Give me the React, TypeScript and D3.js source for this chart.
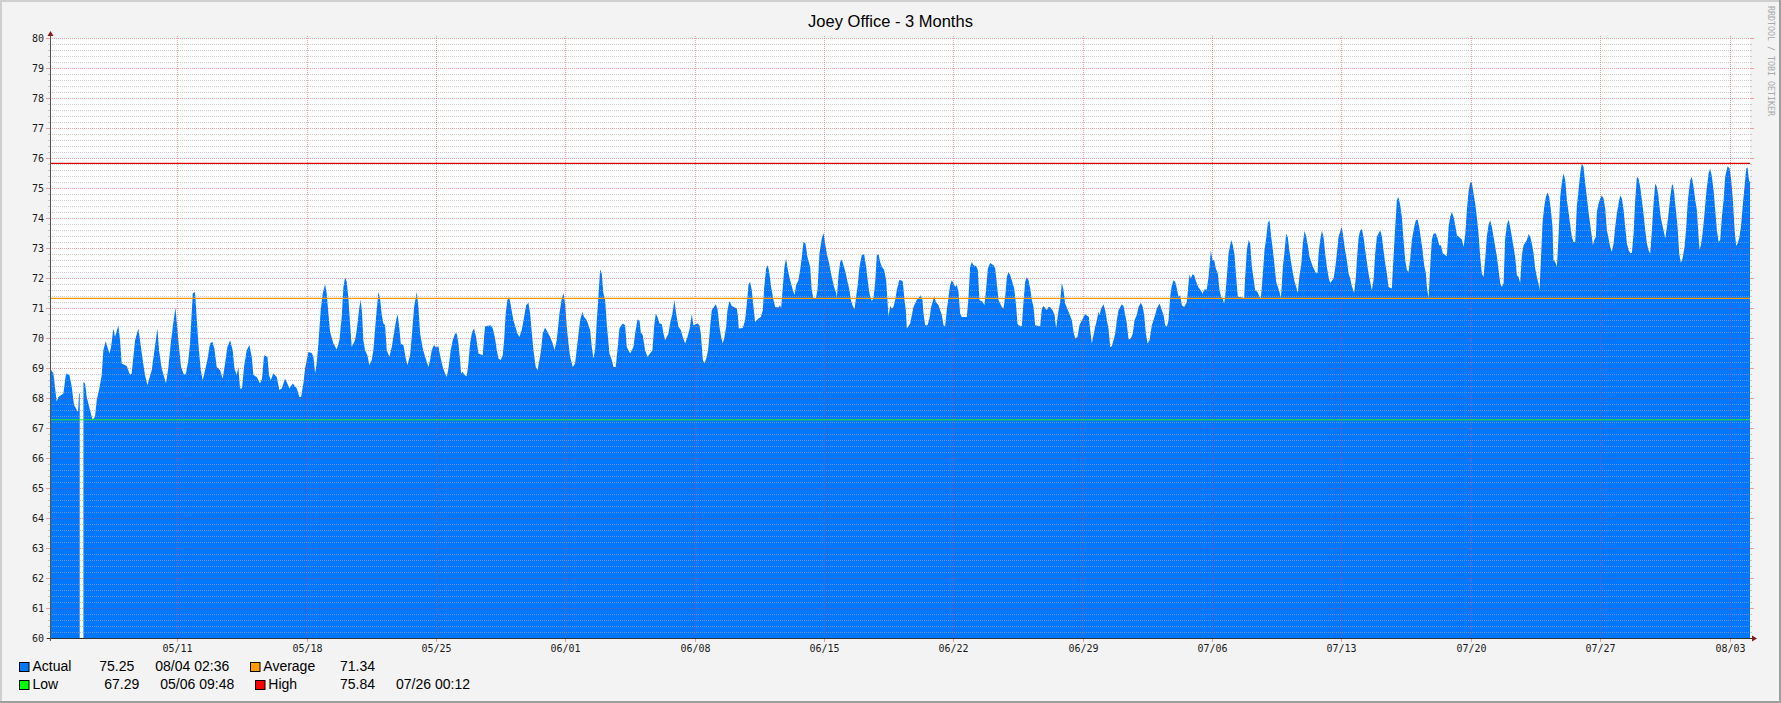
import React from 'react';
import * as d3 from 'd3';

// ---- data: [hours since 05/04 00:00, temperature] ----
const segmentA: [number, number | null][] = [
[2.6,69.00],[7.0,68.83],[11.3,67.89],[13.5,68.05],[20.0,68.17],[23.4,68.83],[27.8,68.78],[30.8,68.39],[33.8,67.78],[39.0,67.55],[40.3,68.17],[41.2,68.17],[42,null],[46.0,68.55],[48.1,68.50],[50.3,68.05],[54.6,67.61],[57.8,67.29],[61.1,67.39],[63.3,67.94],[66.7,68.33],[69.8,68.78],[71.9,69.61],[75.0,69.91],[79.7,69.50],[81.9,69.72],[84.9,70.33],[87.1,70.05],[91.4,70.44],[93.6,69.94],[95.7,69.17],[102.2,69.08],[106.6,68.78],[108.7,68.83],[113.1,69.94],[117.4,70.33],[119.5,69.94],[123.0,69.28],[126.0,68.78],[129.1,68.44],[134.7,68.94],[137.7,69.50],[142.1,70.33],[144.2,69.61],[147.7,69.00],[153.3,68.50],[156.4,69.05],[159.4,69.83],[162.9,70.55],[165.5,71.03],[167.2,70.55],[169.3,69.94],[172.8,69.05],[176.7,68.78],[179.3,68.83],[182.3,69.28],[184.5,69.83],[188.0,71.50],[191.0,71.55],[193.2,70.66],[195.3,69.83],[198.4,68.94],[200.9,68.61],[204.0,68.94],[207.0,69.28],[210.5,69.83],[213.5,69.89],[216.1,69.67],[219.1,69.05],[223.5,68.94],[226.9,68.66],[230.0,69.17],[233.0,69.72],[236.5,69.94],[239.9,69.61],[242.1,69.00],[245.1,68.78],[247.3,69.05],[249.4,68.33],[252.0,68.33],[254.6,69.05],[258.1,69.61],[261.6,69.78],[264.6,69.39],[266.8,68.78],[271.1,68.72],[275.4,68.50],[278.0,68.66],[280.6,69.44],[285.0,69.39],[287.1,68.78],[289.3,68.61],[292.7,68.83],[297.1,68.72],[300.5,68.28],[303.6,68.33],[307.9,68.66],[310.9,68.50],[313.5,68.33],[317.9,68.50],[323.1,68.33],[326.5,68.05],[328.7,68.05],[331.7,68.50],[333.9,69.00],[338.2,69.55],[342.5,69.52],[344.7,69.39],[346.9,68.83],[349.0,69.17],[351.2,69.83],[354.2,70.94],[356.8,71.50],[359.9,71.81],[362.0,71.50],[364.2,70.83],[366.4,70.22],[370.7,69.83],[375.0,69.63],[378.5,69.94]
];
const segmentB: [number, number][] = [
[381.5,70.72],[383.7,71.72],[385.8,72.03],[388.0,71.89],[390.2,71.33],[392.3,70.50],[394.5,69.72],[398.8,69.94],[401.0,70.28],[404.5,71.05],[406.2,71.30],[407.9,70.83],[409.6,69.94],[411.8,69.61],[414.8,69.44],[417.4,69.11],[420.5,69.28],[422.6,69.61],[426.1,70.72],[429.1,71.55],[431.3,71.33],[433.5,70.78],[435.6,70.50],[437.8,70.44],[440.0,69.61],[443.4,69.39],[446.5,69.72],[448.6,70.05],[452.1,70.61],[454.2,70.81],[456.4,70.33],[458.1,69.83],[461.6,69.78],[464.2,69.39],[466.8,69.11],[470.3,69.44],[472.4,70.05],[475.5,71.05],[479.0,71.55],[481.1,71.05],[483.3,70.17],[486.7,69.67],[489.8,69.39],[494.1,69.05],[496.3,69.28],[498.4,69.61],[501.4,69.78],[504.0,69.70],[507.1,69.74],[509.2,69.44],[512.7,69.05],[515.7,68.83],[517.9,68.72],[520.1,69.00],[523.1,69.61],[525.7,69.94],[528.7,70.17],[530.9,70.17],[533.1,69.83],[535.2,69.28],[536.5,68.83],[538.7,68.89],[540.8,68.78],[543.9,68.74],[546.0,69.17],[548.2,69.83],[550.8,70.22],[553.4,70.33],[556.0,70.05],[559.0,69.50],[564.7,69.44],[566.4,70.05],[567.7,70.41],[575.1,70.44],[577.7,70.33],[580.7,70.00],[582.9,69.61],[585.0,69.33],[588.0,69.28],[590.6,69.44],[592.4,69.94],[594.5,70.83],[596.7,71.28],[598.9,71.39],[601.0,71.11],[604.5,70.61],[609.7,70.17],[612.3,70.05],[615.3,70.28],[618.4,70.72],[621.0,71.11],[624.0,71.19],[626.2,70.83],[628.3,70.22],[630.5,69.61],[633.5,69.05],[635.7,68.94],[638.3,69.28],[640.4,69.61],[642.6,70.17],[645.6,70.37],[648.7,70.22],[652.1,70.05],[655.6,69.83],[657.8,69.61],[660.8,69.94],[664.3,70.83],[667.3,71.33],[669.5,71.52],[671.6,71.17],[673.8,70.39],[676.0,69.83],[678.1,69.39],[681.6,69.05],[684.6,69.17],[687.6,69.83],[691.1,70.61],[694.1,70.89],[696.3,70.72],[699.8,70.61],[704.1,70.28],[706.3,69.72],[708.4,69.33],[710.6,69.61],[712.8,70.61],[714.9,71.39],[717.1,72.30],[719.2,72.17],[721.4,71.50],[723.6,71.28],[725.7,70.50],[729.2,69.50],[732.2,69.28],[734.4,69.05],[737.4,69.05],[739.6,69.61],[742.2,70.33]
];
const segmentC: [number, number][] = [
[743.9,70.41],[746.5,70.50],[749.6,70.44],[751.7,69.72],[756.1,69.50],[760.4,69.72],[762.6,70.17],[765.6,70.63],[768.2,70.61],[769.9,70.22],[772.5,70.11],[775.5,69.61],[778.6,69.39],[782.0,69.50],[785.1,69.61],[787.2,70.39],[789.4,70.83],[791.6,70.72],[794.2,70.50],[797.2,70.48],[799.4,70.17],[801.5,69.94],[805.9,70.17],[808.0,70.50],[811.0,70.83],[813.6,71.28],[815.8,70.83],[818.8,70.39],[821.9,70.28],[824.5,70.05],[827.5,69.83],[830.5,70.05],[833.1,70.28],[836.2,70.81],[838.3,70.44],[843.5,70.50],[846.1,70.44],[847.9,70.17],[850.5,69.28],[852.6,69.17],[855.7,69.39],[857.8,69.72],[860.0,70.39],[862.1,70.94],[867.3,71.14],[869.5,71.00],[872.1,70.39],[874.3,70.05],[876.4,69.83],[878.6,70.05],[880.8,70.39],[882.5,70.94],[885.1,71.25],[888.1,71.08],[894.6,71.00],[895.9,70.78],[897.2,70.33],[902.4,70.35],[905.4,70.61],[907.6,71.14],[909.8,71.78],[911.9,71.89],[914.1,71.61],[916.3,71.05],[918.4,70.55],[922.8,70.67],[925.8,70.72],[928.4,70.94],[930.1,71.67],[932.7,72.33],[934.9,72.44],[937.0,72.17],[939.2,71.72],[942.3,71.28],[944.4,71.05],[948.7,71.03],[950.9,71.11],[952.2,71.00],[954.4,71.72],[956.5,72.39],[958.7,72.67],[960.9,72.28],[963.9,71.94],[966.9,71.67],[969.5,71.44],[971.7,71.78],[974.7,71.94],[976.9,72.28],[979.1,72.72],[981.2,73.22],[983.8,73.17],[986.4,72.72],[989.9,72.39],[992.0,71.61],[994.2,71.33],[997.2,71.33],[999.4,71.61],[1002.0,72.83],[1005.0,73.33],[1007.2,73.52],[1009.4,73.17],[1011.5,72.83],[1015.0,72.44],[1018.0,72.05],[1021.0,71.72],[1023.7,71.52],[1024.5,71.33],[1026.7,72.11],[1028.9,72.55],[1031.0,72.63],[1033.2,72.44],[1036.2,72.17],[1038.4,71.89],[1041.0,71.61],[1042.7,71.28],[1044.9,71.11],[1047.5,70.97],[1049.6,71.39],[1051.4,71.72],[1054.0,72.39],[1057.0,72.78],[1060.0,72.81],[1062.6,72.39],[1065.7,71.72],[1067.8,71.39],[1070.0,71.25],[1072.1,71.33],[1074.3,71.83],[1076.5,72.78],[1078.7,72.81],[1080.8,72.55],[1083.0,72.39],[1086.0,72.28],[1088.6,71.94],[1090.3,71.28],[1091.6,70.72],[1093.8,71.08],[1095.9,71.00],[1098.1,71.05],[1100.3,71.28],[1102.5,71.61],[1105.5,71.94]
];
const segmentD: [number, number][] = [
[1108.1,71.94],[1110.3,71.89],[1112.4,71.28],[1114.2,70.94],[1115.5,70.33],[1119.8,70.50],[1122.0,70.78],[1124.1,71.05],[1128.4,71.28],[1133.6,71.44],[1135.8,71.28],[1137.1,70.83],[1139.3,70.44],[1142.3,70.44],[1144.9,70.67],[1147.1,71.05],[1151.0,71.41],[1153.1,71.22],[1156.6,71.11],[1160.9,70.78],[1163.1,70.44],[1165.2,70.41],[1167.4,70.94],[1169.6,71.39],[1171.7,71.78],[1173.9,71.94],[1176.1,71.83],[1178.2,71.72],[1180.4,71.78],[1182.6,71.55],[1184.7,70.83],[1186.9,70.72],[1193.4,70.72],[1195.6,71.39],[1197.7,72.39],[1199.9,72.55],[1202.1,72.44],[1205.5,72.42],[1207.7,72.28],[1209.8,71.28],[1214.2,71.22],[1216.3,71.11],[1218.5,71.67],[1220.7,72.33],[1223.7,72.52],[1228.0,72.44],[1230.2,72.33],[1232.4,71.83],[1234.5,71.28],[1238.9,71.05],[1241.0,71.00],[1243.2,71.39],[1245.4,72.05],[1247.5,72.22],[1249.7,72.11],[1251.8,71.94],[1254.9,71.67],[1256.2,71.39],[1257.5,71.05],[1259.2,70.50],[1260.5,70.44],[1264.8,70.41],[1267.0,71.22],[1269.2,71.89],[1271.3,72.05],[1273.5,71.94],[1275.7,71.67],[1277.8,71.28],[1280.0,71.05],[1282.2,70.44],[1288.7,70.41],[1290.8,71.00],[1293.0,71.08],[1297.3,70.94],[1299.5,71.05],[1301.6,71.05],[1304.7,70.94],[1307.3,70.78],[1309.4,70.33],[1311.6,70.78],[1314.6,71.22],[1316.8,71.85],[1319.0,71.61],[1321.1,71.17],[1325.5,70.89],[1329.8,70.61],[1332.0,70.22],[1334.1,70.00],[1337.1,70.05],[1339.7,70.44],[1342.8,70.61],[1347.1,70.81],[1351.9,70.72],[1353.6,70.28],[1355.8,69.83],[1357.9,70.11],[1360.1,70.39],[1362.3,70.61],[1364.4,70.89],[1365.7,70.78],[1367.9,71.00],[1370.9,71.14],[1373.1,70.94],[1375.3,70.61],[1377.4,70.33],[1379.6,69.72],[1381.7,69.74],[1383.9,69.94],[1386.1,70.17],[1388.2,70.61],[1390.4,70.94],[1394.7,71.14],[1396.9,71.08],[1399.1,70.78],[1401.2,70.50],[1403.4,69.97],[1406.4,70.00],[1409.0,70.17],[1411.2,70.61],[1414.2,70.78],[1416.4,71.05],[1419.4,71.19],[1422.0,71.05],[1423.7,70.78],[1425.9,70.17],[1428.1,69.83],[1430.7,69.94],[1433.7,70.44],[1438.0,70.78],[1440.2,71.00],[1443.7,71.17],[1446.7,70.94],[1448.9,70.78],[1451.0,70.44],[1453.2,70.39],[1455.4,70.61],[1457.5,71.39],[1459.7,71.78],[1461.9,71.94],[1464.0,71.89],[1466.2,71.67],[1468.3,71.39]
];
const segmentE: [number, number][] = [
[1470.5,71.44],[1472.7,71.11],[1475.7,71.05],[1479.2,71.22],[1481.3,71.83],[1482.6,72.14],[1484.3,72.00],[1486.5,72.14],[1488.7,72.11],[1491.3,71.89],[1494.3,71.70],[1497.3,71.61],[1499.5,71.48],[1501.7,71.63],[1505.1,71.63],[1507.3,72.05],[1508.6,72.39],[1510.3,72.94],[1512.5,72.61],[1514.7,72.61],[1516.8,72.33],[1519.4,72.17],[1521.6,71.61],[1523.7,71.39],[1525.9,71.30],[1527.6,71.17],[1528.9,71.39],[1531.1,72.05],[1533.3,72.83],[1535.4,73.11],[1536.7,73.28],[1538.9,73.11],[1541.1,72.78],[1543.2,72.05],[1545.4,71.39],[1551.5,71.37],[1553.6,71.33],[1554.9,72.05],[1557.1,72.94],[1559.3,73.28],[1561.4,73.17],[1563.6,72.39],[1565.8,72.00],[1567.9,71.61],[1571.0,71.55],[1573.5,71.39],[1575.3,71.33],[1577.9,72.17],[1580.0,72.94],[1582.2,73.33],[1584.4,73.85],[1586.5,73.94],[1588.7,73.39],[1590.9,72.94],[1593.0,72.44],[1595.2,71.89],[1597.4,71.72],[1599.5,71.55],[1601.3,71.33],[1602.6,71.83],[1603.9,72.39],[1606.0,72.89],[1608.2,73.50],[1610.3,73.37],[1612.5,72.89],[1615.5,72.39],[1618.6,71.94],[1621.2,71.72],[1623.3,71.52],[1625.5,72.11],[1627.7,72.44],[1629.8,73.17],[1632.0,73.58],[1634.2,73.39],[1636.3,73.11],[1638.5,72.72],[1642.8,72.39],[1647.2,72.17],[1648.9,72.19],[1650.2,72.83],[1652.4,73.28],[1654.5,73.59],[1656.7,73.39],[1658.8,72.83],[1661.0,72.39],[1663.2,72.05],[1665.3,71.85],[1669.7,72.00],[1671.8,72.33],[1674.0,72.83],[1676.2,73.39],[1680.1,73.72],[1681.8,73.50],[1684.0,73.05],[1687.0,72.61],[1689.2,72.17],[1691.3,72.00],[1693.5,71.74],[1696.5,71.52],[1698.7,72.05],[1700.0,72.61],[1702.1,73.33],[1704.3,73.61],[1706.5,73.64],[1708.6,73.39],[1710.8,72.94],[1713.0,72.55],[1715.1,72.17],[1717.3,71.89],[1719.5,71.61],[1721.6,71.94],[1723.8,72.83],[1726.0,73.39],[1730.3,73.61],[1732.5,73.39],[1734.6,72.94],[1736.8,72.50],[1739.0,72.17],[1741.1,71.72],[1745.4,71.67],[1747.6,72.72],[1749.8,73.72],[1751.9,74.61],[1754.1,74.72],[1756.3,74.44],[1758.4,74.05],[1760.6,73.28],[1762.8,72.61],[1764.9,72.28],[1767.1,72.22],[1769.3,72.67],[1771.4,73.28],[1774.5,73.72],[1776.6,73.94],[1778.8,73.97],[1781.0,73.72],[1783.1,73.33],[1785.3,72.94],[1787.4,72.44],[1789.6,72.17],[1790.9,71.72],[1793.1,71.33],[1795.2,72.39],[1797.4,73.30],[1799.6,73.50],[1802.6,73.50],[1804.8,73.33],[1806.9,73.11],[1809.1,73.11],[1811.7,72.83],[1816.9,72.74],[1819.1,73.72],[1821.2,74.05],[1823.4,74.22],[1825.6,74.05],[1827.7,73.78],[1829.9,73.44],[1833.3,73.37]
];
const segmentF: [number, number][] = [
[1836.4,73.30],[1838.5,73.05],[1840.7,73.44],[1842.9,74.28],[1845.0,74.89],[1847.2,75.20],[1849.3,75.20],[1851.5,74.83],[1853.7,74.50],[1855.8,74.05],[1858.0,73.50],[1860.2,72.72],[1862.3,72.17],[1864.5,72.05],[1866.7,72.67],[1868.8,73.39],[1871.0,73.78],[1873.2,73.94],[1875.3,73.72],[1877.5,73.39],[1879.7,73.05],[1881.8,72.74],[1884.0,72.28],[1886.2,71.83],[1888.3,71.72],[1890.5,71.83],[1892.6,73.33],[1894.8,73.78],[1897.0,73.97],[1899.1,73.72],[1901.3,73.39],[1903.5,73.05],[1905.6,72.72],[1907.8,72.11],[1910.0,72.05],[1912.1,71.85],[1914.3,72.78],[1916.5,73.11],[1920.8,73.28],[1923.0,73.48],[1925.1,73.39],[1927.3,73.17],[1929.5,72.83],[1931.6,72.33],[1933.8,72.05],[1935.9,71.83],[1937.2,71.61],[1939.0,72.61],[1941.1,73.83],[1943.3,74.39],[1945.5,74.72],[1947.6,74.87],[1949.8,74.72],[1952.0,74.28],[1954.1,73.72],[1955.4,72.61],[1957.6,72.55],[1959.8,72.39],[1961.9,73.39],[1964.1,74.72],[1966.3,75.22],[1968.4,75.50],[1970.6,75.28],[1972.8,74.61],[1974.9,74.22],[1977.1,73.78],[1979.2,73.39],[1981.4,73.22],[1983.6,73.22],[1985.7,74.39],[1987.9,74.94],[1990.1,75.50],[1992.2,75.84],[1994.4,75.72],[1996.6,75.17],[1998.7,74.72],[2000.9,74.22],[2003.1,73.78],[2005.2,73.39],[2006.5,73.11],[2008.3,73.28],[2010.4,73.39],[2011.7,74.22],[2013.9,74.50],[2016.1,74.67],[2018.2,74.77],[2020.4,74.67],[2022.5,74.33],[2024.7,73.61],[2026.9,73.33],[2029.0,73.05],[2031.2,72.89],[2033.4,73.17],[2035.5,73.72],[2037.7,74.17],[2039.9,74.50],[2042.0,74.77],[2044.2,74.67],[2046.4,74.28],[2048.5,73.72],[2050.7,73.17],[2052.9,72.94],[2055.0,72.85],[2057.2,72.85],[2059.4,73.50],[2061.5,74.61],[2063.7,75.39],[2065.8,75.33],[2068.0,75.05],[2070.2,74.61],[2072.3,74.17],[2074.5,73.61],[2076.7,73.17],[2078.8,72.94],[2081.0,72.83],[2083.2,73.61],[2085.3,74.50],[2087.5,75.17],[2089.7,75.05],[2091.8,74.72],[2094.0,74.17],[2096.2,73.83],[2098.3,73.61],[2100.5,73.33],[2102.7,73.72],[2104.8,74.17],[2107.0,74.72],[2109.1,75.11],[2110.4,75.14],[2112.2,74.83],[2114.3,74.28],[2116.5,73.72],[2118.7,72.83],[2120.8,72.52],[2123.0,72.67],[2125.6,73.05],[2127.8,73.72],[2129.9,74.61],[2133.0,75.28],[2135.1,75.39],[2137.3,75.05],[2139.5,74.61],[2141.6,74.28],[2143.8,73.39],[2145.1,72.97],[2146.8,73.11],[2149.0,73.50],[2151.1,74.05],[2153.7,74.83],[2156.8,75.50],[2158.9,75.67],[2161.1,75.39],[2163.3,74.94],[2165.4,74.28],[2167.6,73.61],[2169.8,73.22],[2171.9,73.28],[2174.1,74.05],[2176.3,74.61],[2178.4,75.39],[2181.5,75.74],[2184.1,75.67],[2186.2,75.28],[2188.4,74.61],[2190.6,73.61],[2192.7,73.08],[2194.4,73.17],[2196.6,73.33],[2198.8,73.72],[2201.4,74.50],[2203.5,75.05],[2205.7,75.67],[2207.4,75.70],[2209.6,75.22],[2210.6,75.25]
];

const yTicks = [60, 61, 62, 63, 64, 65, 66, 67, 68, 69, 70, 71, 72, 73, 74, 75, 76, 77, 78, 79, 80];
const weekTickLabels = ['05/11', '05/18', '05/25', '06/01', '06/08', '06/15', '06/22', '06/29', '07/06', '07/13', '07/20', '07/27', '08/03'];
const legendNames = ['Actual', 'Average', 'Low', 'High'];
const legendColors = ['#0077FF', '#FF9900', '#00FF00', '#FF0000'];
const legendValues = ['75.25', '71.34', '67.29', '75.84'];
const legendStamps = ['08/04 02:36', '', '05/06 09:48', '07/26 00:12'];
const ruleValues = { average: 71.34, low: 67.29, high: 75.84 };

const YEAR = 2015;
const T0 = Date.UTC(YEAR, 4, 4);
const HOUR = 3600 * 1000;

type Pt = { t: Date; v: number | null };
const readings: Pt[] = [...segmentA, ...segmentB, ...segmentC, ...segmentD, ...segmentE, ...segmentF].map(
  ([h, v]) => ({ t: new Date(T0 + h * HOUR), v })
);

const W = 1781;
const H = 703;
const X0 = 50, X1 = 1750;
const mono = "'DejaVu Sans Mono', monospace";
const sans = "'Liberation Sans', Arial, sans-serif";

export default function App() {
  const x = d3.scaleUtc()
    .domain([new Date(T0 + 2.6 * HOUR), new Date(T0 + 2210.6 * HOUR)])
    .range([X0, X1]);
  const y = d3.scaleLinear().domain([60, 80]).range([638.5, 38.5]);

  const area = d3.area<Pt>()
    .defined(d => d.v != null)
    .x(d => x(d.t))
    .y0(y(60))
    .y1(d => y(d.v as number));

  const minorVals = d3.range(60, 80.001, 0.2).map(v => Math.round(v * 10) / 10).filter(v => Math.abs(v - Math.round(v)) > 0.01);
  const parse = d3.utcParse('%Y/%m/%d');
  const weekDates = weekTickLabels.map(l => parse(`${YEAR}/${l}`) as Date);

  const minorColor = 'rgba(170,170,170,0.6)';
  const majorColor = 'rgba(225,70,70,0.5)';

  const legendPos = [
    { sx: 19.5, sy: 662.5, tx: 32.5, vx: 99.3, stx: 155.3, by: 671 },
    { sx: 250.5, sy: 662.5, tx: 263.3, vx: 340, stx: 0, by: 671 },
    { sx: 19.5, sy: 680.5, tx: 32.5, vx: 104.3, stx: 160.3, by: 689 },
    { sx: 255.5, sy: 680.5, tx: 268.3, vx: 340, stx: 396, by: 689 },
  ];

  return (
    <svg width={W} height={H} style={{ position: 'absolute', left: 0, top: 0, display: 'block' }}>
      <rect x={0} y={0} width={W} height={H} fill="#F3F3F3" />
      <rect x={0} y={0} width={W} height={2} fill="#CFCFCF" />
      <rect x={0} y={0} width={2} height={H} fill="#CFCFCF" />
      <rect x={0} y={H - 2} width={W} height={2} fill="#9E9E9E" />
      <rect x={W - 2} y={0} width={2} height={H} fill="#9E9E9E" />

      <text x={W / 2} y={26.5} textAnchor="middle" fontFamily={sans} fontSize={16.5} fill="#000">Joey Office - 3 Months</text>
      <text transform={`translate(1768,6) rotate(90)`} fontFamily={mono} fontSize={8.3} fill="#A8A8A8">RRDTOOL / TOBI OETIKER</text>

      <rect x={X0} y={38} width={X1 - X0} height={600.5} fill="#FFFFFF" />
      <path d={area(readings) || ''} fill="#0077FF" />

      {/* minor grid */}
      {minorVals.map(v => (
        <g key={'mi' + v}>
          <line x1={X0} x2={X1} y1={y(v)} y2={y(v)} stroke={minorColor} strokeWidth={1} strokeDasharray="1,1" />
          <line x1={X0 - 2} x2={X0} y1={y(v)} y2={y(v)} stroke={minorColor} strokeWidth={1} />
          <line x1={X1} x2={X1 + 2} y1={y(v)} y2={y(v)} stroke={minorColor} strokeWidth={1} />
        </g>
      ))}
      {/* major grid */}
      {yTicks.map(v => (
        <g key={'ma' + v}>
          <line x1={X0} x2={X1} y1={y(v)} y2={y(v)} stroke={majorColor} strokeWidth={1} strokeDasharray="1,1" />
          <line x1={X0 - 4} x2={X0} y1={y(v)} y2={y(v)} stroke={majorColor} strokeWidth={1} />
          <line x1={X1} x2={X1 + 4} y1={y(v)} y2={y(v)} stroke={majorColor} strokeWidth={1} />
          <text x={44} y={y(v) + 3.5} textAnchor="end" fontFamily={mono} fontSize={10} fill="#1a1a1a">{v}</text>
        </g>
      ))}
      {weekDates.map((d, i) => {
        const px = Math.round(x(d)) + 0.5;
        return (
          <g key={'vx' + i}>
            <line x1={px} x2={px} y1={36} y2={638} stroke={majorColor} strokeWidth={1} strokeDasharray="1,1" />
            <line x1={px} x2={px} y1={638} y2={642} stroke={majorColor} strokeWidth={1} />
            <text x={px} y={651.5} textAnchor="middle" fontFamily={mono} fontSize={10} fill="#1a1a1a">{weekTickLabels[i]}</text>
          </g>
        );
      })}

      {/* rules */}
      <line x1={X0} x2={X1} y1={y(ruleValues.average)} y2={y(ruleValues.average)} stroke="#FF9900" strokeWidth={1.3} />
      <line x1={X0} x2={X1} y1={y(ruleValues.high)} y2={y(ruleValues.high)} stroke="#E00000" strokeWidth={1.3} />
      <line x1={X0} x2={X1} y1={y(ruleValues.low)} y2={y(ruleValues.low)} stroke="#22EE22" strokeWidth={1} />

      {/* axes */}
      <line x1={47} x2={1753} y1={638.5} y2={638.5} stroke="#333" strokeWidth={1} />
      <line x1={50.5} x2={50.5} y1={35} y2={641} stroke="#555" strokeWidth={1} />
      <path d="M47.5,36 L50.5,31 L53.5,36 Z" fill="#8B1A1A" />
      <path d="M1752,635.5 L1757,638.5 L1752,641.5 Z" fill="#8B1A1A" />

      {/* legend */}
      {legendNames.map((n, i) => {
        const p = legendPos[i];
        return (
          <g key={'lg' + i}>
            <rect x={p.sx} y={p.sy} width={9.5} height={9} fill={legendColors[i]} stroke="#000" strokeWidth={1} />
            <text x={p.tx} y={p.by} fontFamily={sans} fontSize={14} fill="#000">{n}</text>
            <text x={p.vx} y={p.by} fontFamily={sans} fontSize={14} fill="#000">{legendValues[i]}</text>
            {legendStamps[i] && <text x={p.stx} y={p.by} fontFamily={sans} fontSize={14} fill="#000">{legendStamps[i]}</text>}
          </g>
        );
      })}
    </svg>
  );
}
